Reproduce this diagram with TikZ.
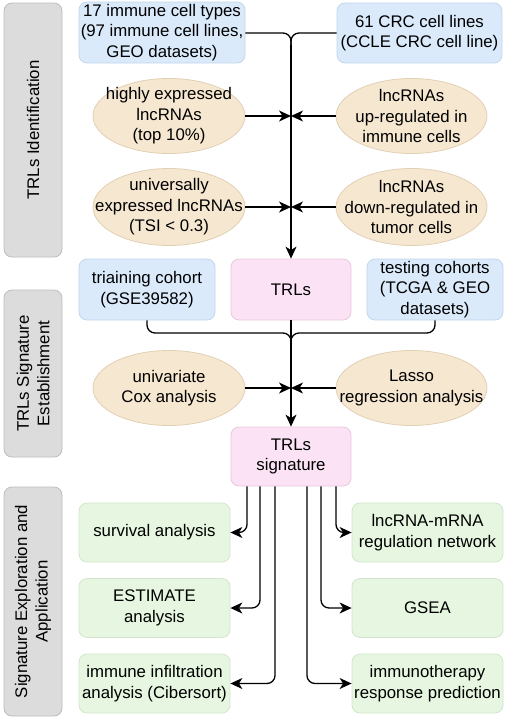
\documentclass[tikz,border=0pt]{standalone}
\usepackage{fontspec}
\setmainfont{Liberation Sans}
\usetikzlibrary{shapes.geometric,arrows.meta}
\definecolor{bluef}{HTML}{DAEAFB}
\definecolor{blued}{HTML}{C2D6EC}
\definecolor{begf}{HTML}{F6E7D1}
\definecolor{begd}{HTML}{E2D0B4}
\definecolor{pinkf}{HTML}{FBE2F4}
\definecolor{pinkd}{HTML}{E8C8DE}
\definecolor{grnf}{HTML}{E6F6E0}
\definecolor{grnd}{HTML}{D2E6CB}
\definecolor{grayf}{HTML}{DCDCDC}
\definecolor{grayd}{HTML}{BDBDBD}
\tikzset{
  txt/.style={font=\fontsize{16.8}{20.5}\selectfont, align=center, inner sep=0pt},
  bar/.style={txt, draw=grayd, fill=grayf, rounded corners=8pt, rotate=90, line width=0.8pt},
  bluebox/.style={txt, draw=blued, fill=bluef, rounded corners=8pt, line width=0.8pt, minimum height=61pt},
  pinkbox/.style={txt, draw=pinkd, fill=pinkf, rounded corners=8pt, line width=0.8pt, minimum width=120pt},
  grnbox/.style={txt, draw=grnd, fill=grnf, rounded corners=8pt, line width=0.8pt, minimum width=151pt, minimum height=59pt},
  ell/.style={ellipse, inner sep=0pt, draw=begd, fill=begf, line width=0.8pt, minimum width=152pt, minimum height=75pt},
  conn/.style={line width=1.3pt, black},
  arr/.style={conn, -{Stealth[length=12pt,width=11pt,inset=3.5pt]}},
}
\begin{document}
\begin{tikzpicture}[x=1pt,y=-1pt]
\useasboundingbox (0,0) rectangle (505,718);
% side bars
\node[bar, minimum width=254pt, minimum height=58pt] (bar1) at (33,130) {TRLs Identification};
\node[bar, minimum width=167pt, minimum height=58pt] (bar2) at (33,373.5) {TRLs Signature\\Establishment};
\node[bar, minimum width=229pt, minimum height=58pt] (bar3) at (33,601.5) {Signature Exploration and\\Application};
% section 1
\node[bluebox, minimum width=166pt] (b1) at (162,32.5) {17 immune cell types\\(97 immune cell lines,\\GEO datasets)};
\node[bluebox, minimum width=165pt, minimum height=60pt] (b2) at (419.5,33) {61 CRC cell lines\\(CCLE CRC cell line)};
\node[ell] (e1) at (169,116) {};
\node[txt] (t1) at (e1) {highly expressed\\lncRNAs\\(top 10\%)};
\node[ell, minimum width=151pt] (e2) at (411.5,116) {};
\node[txt] (t2) at (e2) {lncRNAs\\up-regulated in\\immune cells};
\node[ell, minimum height=77pt] (e3) at (169,207) {};
\node[txt] (t3) at (e3) {universally\\expressed lncRNAs\\(TSI < 0.3)};
\node[ell, minimum width=151pt, minimum height=77pt] (e4) at (411.5,207) {};
\node[txt] (t4) at (e4) {lncRNAs\\down-regulated in\\tumor cells};
% section 2
\node[pinkbox, minimum height=61pt] (trl) at (291,289.5) {TRLs};
\node[bluebox, minimum width=136pt] (tr) at (147,289.5) {triaining cohort\\(GSE39582)};
\node[bluebox, minimum width=136pt] (te) at (435,289.5) {testing cohorts\\(TCGA \& GEO\\datasets)};
\node[ell] (e5) at (169,388) {};
\node[txt] (t5) at (e5) {univariate\\Cox analysis};
\node[ell, minimum width=151pt] (e6) at (411.5,388) {};
\node[txt] (t6) at (e6) {Lasso\\regression analysis};
\node[pinkbox, minimum height=59pt] (sig) at (291,456.5) {TRLs\\signature};
% section 3
\node[grnbox] (g1) at (154.5,532.5) {survival analysis};
\node[grnbox] (g2) at (154.5,608) {ESTIMATE\\analysis};
\node[grnbox] (g3) at (154.5,683.5) {immune infiltration\\analysis (Cibersort)};
\node[grnbox] (g4) at (427.5,532.5) {lncRNA-mRNA\\regulation network};
\node[grnbox] (g5) at (427.5,608) {GSEA};
\node[grnbox] (g6) at (427.5,683.5) {immunotherapy\\response prediction};
% junction coordinates
\coordinate (j1) at (291,116);
\coordinate (j2) at (291,207);
\coordinate (j3) at (291,388);
% connectors section 1
\draw[conn, rounded corners=8pt] (b1.east |- 0,33) -- (291,33) -- (291,60);
\draw[conn, rounded corners=8pt] (b2.west |- 0,33) -- (291,33) -- (291,60);
\draw[arr] (291,45) -- (trl.north);
\draw[arr] (e1.east) -- (j1);
\draw[arr] (e2.west) -- (j1);
\draw[arr] (e3.east) -- (j2);
\draw[arr] (e4.west) -- (j2);
% connectors section 2
\draw[conn, rounded corners=8pt] (tr.south) -- (147,333) -- (291,333) -- (291,360);
\draw[conn, rounded corners=8pt] (te.south) -- (435,333) -- (291,333) -- (291,360);
\draw[arr] (trl.south) -- (sig.north);
\draw[arr] (e5.east) -- (j3);
\draw[arr] (e6.west) -- (j3);
% connectors section 3
\draw[arr, rounded corners=8pt] (sig.south -| 247,0) -- (247,532.5) -- (g1.east);
\draw[arr, rounded corners=8pt] (sig.south -| 260,0) -- (260,608) -- (g2.east);
\draw[arr, rounded corners=8pt] (sig.south -| 275,0) -- (275,683.5) -- (g3.east);
\draw[arr, rounded corners=8pt] (sig.south -| 336,0) -- (336,532.5) -- (g4.west);
\draw[arr, rounded corners=8pt] (sig.south -| 321,0) -- (321,608) -- (g5.west);
\draw[arr, rounded corners=8pt] (sig.south -| 307,0) -- (307,683.5) -- (g6.west);
\end{tikzpicture}
\end{document}
